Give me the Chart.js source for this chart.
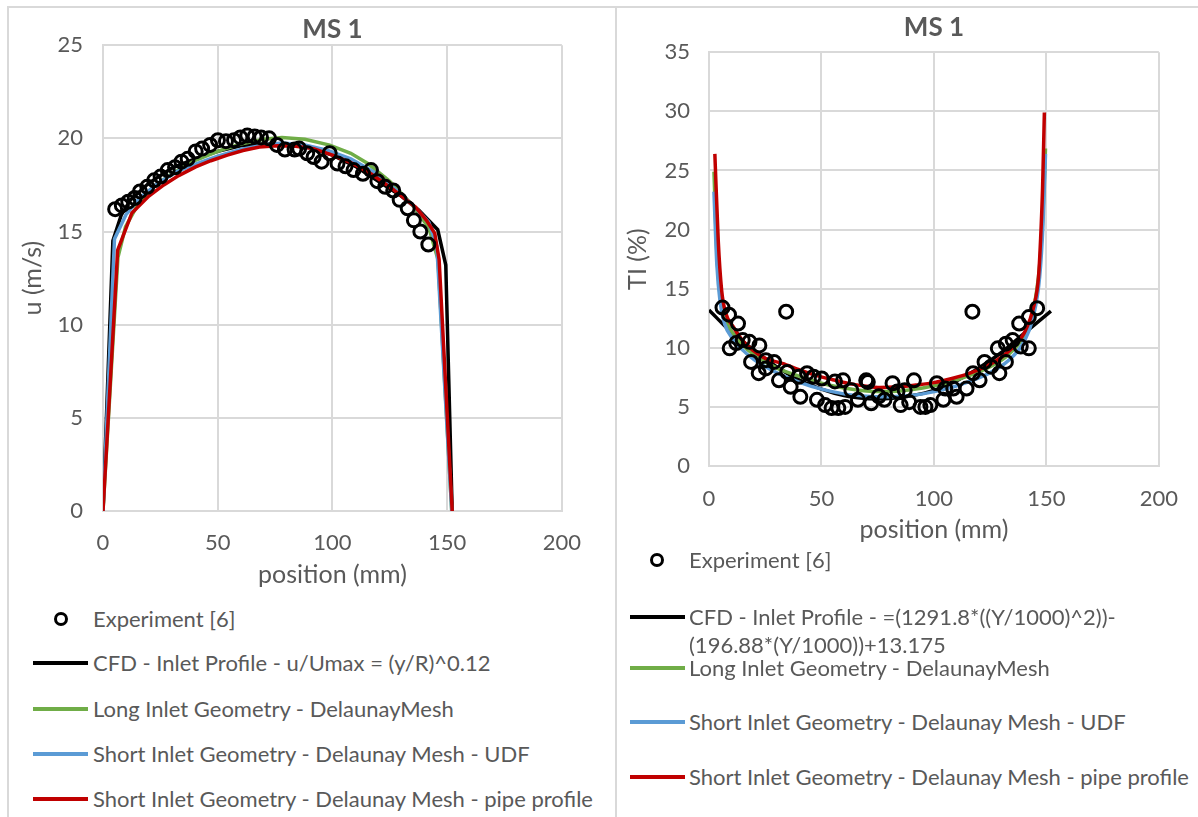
<!DOCTYPE html>
<html>
<head>
<meta charset="utf-8">
<script src="https://cdn.jsdelivr.net/npm/chart.js@4.4.1/dist/chart.umd.min.js"></script>
<style>
  body { margin: 0; width: 1198px; height: 817px; overflow: hidden; background: #fff; font-family: Lato, sans-serif; color: #595959; }
  .panel { position: absolute; top: 6px; height: 900px; border-top: 2px solid #d9d9d9; border-left: 2px solid #d9d9d9; box-sizing: border-box; }
  .box { position: absolute; }
  .lg { position: absolute; font-size: 22px; line-height: 28px; white-space: nowrap; color: #595959; }
  .mk-line { position: absolute; height: 4px; width: 55px; }
  .mk-circ { position: absolute; width: 8px; height: 8px; border: 3px solid #000; border-radius: 50%; }
</style>
</head>
<body>
<div class="panel" style="left:7px; width:610px;"></div>
<div class="panel" style="left:615px; width:600px;"></div>

<div class="box" style="left:0px; top:0px; width:600px; height:600px;"><canvas id="vel-chart"></canvas></div>
<div class="box" style="left:615px; top:0px; width:583px; height:560px;"><canvas id="ti-chart"></canvas></div>

<div id="vel-legend"></div>
<div id="ti-legend"></div>

<script>
// velocity, MS 1 (left)
const velExpX = [5.3, 8.2, 11.0, 13.8, 16.1, 19.3, 22.3, 25.1, 28.2, 31.4, 34.2, 36.9, 40.4, 43.2, 46.7, 50.1, 53.6, 57.1, 59.9, 62.9, 66.1, 68.9, 72.4, 75.8, 79.3, 83.5, 85.5, 89.0, 91.8, 95.3, 98.8, 102.2, 105.7, 109.2, 113.3, 116.8, 119.6, 123.0, 126.5, 129.3, 132.8, 135.5, 138.3, 141.8];
const velExpY = [16.2, 16.4, 16.6, 16.8, 17.15, 17.4, 17.75, 17.95, 18.3, 18.45, 18.75, 18.9, 19.3, 19.45, 19.65, 19.9, 19.85, 19.9, 20.05, 20.15, 20.1, 20.05, 20.0, 19.65, 19.4, 19.4, 19.45, 19.2, 19.0, 18.75, 19.2, 18.65, 18.5, 18.3, 18.1, 18.3, 17.7, 17.4, 17.2, 16.7, 16.25, 15.6, 15.0, 14.3];

const velCfdX = [0, 4.3, 8, 12, 20, 30, 40, 50, 60, 70, 80, 90, 100, 110, 120, 130, 137.6, 145.9, 149.4, 152.2];
const velCfdY = [0, 14.5, 15.9, 16.7, 17.6, 18.4, 18.9, 19.3, 19.6, 19.7, 19.7, 19.5, 19.1, 18.5, 17.7, 16.9, 16.15, 15.1, 13.2, 0];

const velLongX = [0, 6.5, 9.8, 15.4, 22, 30, 40, 50, 60, 70, 78, 88, 98.8, 108, 115.4, 125, 135, 142, 146, 152];
const velLongY = [0, 13.6, 15.25, 16.5, 17.4, 18.1, 18.8, 19.3, 19.7, 19.95, 20.05, 19.95, 19.64, 19.2, 18.65, 17.7, 16.4, 15.2, 13.5, 0];

const velUdfX = [0, 5, 10, 16, 24, 32, 40, 50, 60, 70, 78, 88, 98, 108, 118, 128, 136, 142, 145.5, 152];
const velUdfY = [0, 14.6, 15.9, 16.8, 17.6, 18.2, 18.6, 19.05, 19.4, 19.65, 19.75, 19.65, 19.35, 18.9, 18.2, 17.2, 16.3, 15.5, 14.2, 0];

const velPipeX = [0, 6.4, 12.6, 20, 26.5, 33, 40.4, 47, 54.2, 61, 68.2, 76, 84, 91.8, 100, 108, 116.8, 126, 136.3, 141, 144.6, 146.5, 152.2];
const velPipeY = [0, 14.0, 16.0, 16.9, 17.5, 18.0, 18.47, 18.8, 19.1, 19.35, 19.54, 19.6, 19.58, 19.45, 19.1, 18.7, 18.1, 17.3, 16.3, 15.6, 14.9, 13.5, 0];

// turbulence intensity, MS 1 (right)
const tiExpX = [6.0, 8.9, 9.2, 12.1, 12.9, 15.0, 18.0, 18.7, 22.1, 22.4, 25.3, 25.3, 28.9, 31.1, 34.3, 34.8, 36.3, 39.9, 40.6, 43.6, 46.5, 48.0, 50.1, 51.6, 54.5, 56.0, 57.5, 59.6, 60.5, 63.3, 66.2, 69.9, 70.6, 72.1, 75.5, 78.0, 81.6, 83.8, 85.2, 87.0, 89.0, 91.1, 94.0, 96.2, 98.4, 101.3, 104.2, 105.0, 108.6, 110.1, 114.5, 117.1, 117.4, 120.3, 122.5, 125.4, 128.4, 129.1, 132.0, 132.0, 135.0, 137.9, 138.6, 142.2, 142.2, 145.9];
const tiExpY = [13.4, 12.8, 9.95, 10.4, 12.05, 10.65, 10.5, 8.8, 7.85, 10.2, 8.95, 8.25, 8.8, 7.25, 13.05, 7.95, 6.7, 7.55, 5.85, 7.85, 7.55, 5.6, 7.4, 5.15, 4.9, 7.15, 4.9, 7.25, 5.0, 6.4, 5.6, 7.25, 7.1, 5.3, 5.9, 5.6, 7.0, 6.3, 5.15, 6.4, 5.4, 7.25, 5.0, 5.0, 5.15, 7.0, 5.6, 6.55, 6.55, 5.85, 6.55, 13.05, 7.85, 7.25, 8.8, 8.4, 9.95, 7.85, 8.8, 10.35, 10.65, 12.05, 10.1, 9.95, 12.6, 13.35];

const tiCfdX = [0, 10, 20, 30, 40, 50, 60, 70, 76, 80, 90, 100, 110, 120, 130, 140, 152];
const tiCfdY = [13.2, 11.3, 9.8, 8.4, 7.3, 6.5, 5.95, 5.7, 5.67, 5.7, 5.95, 6.4, 7.2, 8.3, 9.6, 11.2, 13.1];

const tiLongX = [2.2, 3.5, 5, 7, 10, 15, 20, 30, 40, 50, 60, 70, 76, 85, 95, 105, 115, 125, 133, 140, 144, 147, 148.5, 149.6];
const tiLongY = [24.9, 18, 14.3, 12.6, 11.4, 10.2, 9.4, 8.3, 7.6, 7.0, 6.6, 6.35, 6.3, 6.35, 6.6, 7.0, 7.6, 8.4, 9.4, 11, 13, 17, 21.5, 26.85];

const tiUdfX = [2.2, 3.5, 5, 7, 10, 15, 20, 30, 40, 50, 60, 70, 76, 85, 95, 105, 115, 125, 133, 140, 144, 147, 148.5, 149.6];
const tiUdfY = [23.2, 17, 13.8, 12.0, 10.9, 9.8, 9.0, 7.9, 7.1, 6.5, 6.1, 5.9, 5.85, 5.9, 6.1, 6.5, 7.1, 7.9, 8.9, 10.5, 12.5, 16, 20.5, 26.4];

const tiPipeX = [2.6, 4.1, 5.6, 7.5, 10.7, 15, 19.4, 25, 32.6, 40, 47.2, 55, 61.8, 70, 76, 84, 92, 100, 108, 116, 124, 130, 136, 140, 144.4, 146.5, 147.4, 148.3, 149.1];
const tiPipeY = [26.4, 19.1, 14.9, 12.9, 11.8, 10.6, 9.8, 9.1, 8.68, 8.15, 7.69, 7.3, 6.99, 6.75, 6.65, 6.7, 6.85, 7.05, 7.4, 7.85, 8.5, 9.2, 10.2, 11.2, 13.5, 16, 19.1, 23.5, 29.9];

const posTicks = [0, 50, 100, 150, 200];
const velTicks = [0, 5, 10, 15, 20, 25];
const tiTicks = [0, 5, 10, 15, 20, 25, 30, 35];

const expName = 'Experiment [6]';
const velCfdName = 'CFD - Inlet Profile - u/Umax = (y/R)^0.12';
const tiCfdName = ['CFD - Inlet Profile - =(1291.8*((Y/1000)^2))-', '(196.88*(Y/1000))+13.175'];
const longName = 'Long Inlet Geometry - DelaunayMesh';
const udfName = 'Short Inlet Geometry - Delaunay Mesh - UDF';
const pipeName = 'Short Inlet Geometry - Delaunay Mesh - pipe profile';

const cfdColor = '#000000';
const longColor = '#70ad47';
const udfColor = '#5b9bd5';
const pipeColor = '#c00000';
const gridColor = '#d9d9d9';
const textColor = '#595959';

function pts(xs, ys) {
    return xs.map((x, i) => ({x: x, y: ys[i]}));
}

function lineSet(label, xs, ys, color, smooth) {
    return {
        label: label,
        data: pts(xs, ys),
        showLine: true,
        borderColor: color,
        backgroundColor: color,
        borderWidth: 3.5,
        pointRadius: 0,
        tension: 0,
        cubicInterpolationMode: smooth ? 'monotone' : 'default'
    };
}

function expSet(xs, ys) {
    return {
        label: expName,
        data: pts(xs, ys),
        showLine: false,
        pointRadius: 6.5,
        pointBorderWidth: 3,
        pointBorderColor: '#000000',
        pointBackgroundColor: 'rgba(0,0,0,0)',
        borderColor: '#000000'
    };
}

function chartOptions(cfg) {
    return {
        responsive: true,
        maintainAspectRatio: false,
        animation: false,
        layout: { padding: cfg.pad },
        plugins: {
            legend: { display: false },
            tooltip: { enabled: false },
            title: {
                display: true,
                text: 'MS 1',
                fullSize: false,
                color: textColor,
                font: { family: 'Lato', size: 26, weight: 'bold' },
                padding: cfg.titlePad
            }
        },
        scales: {
            x: {
                type: 'linear',
                min: 0,
                max: 200,
                afterBuildTicks: s => { s.ticks = posTicks.map(v => ({value: v})); },
                afterFit: s => { s.height = cfg.xHeight; },
                grid: { color: gridColor, lineWidth: 2, drawTicks: false },
                border: { color: gridColor, width: 2 },
                ticks: { color: textColor, padding: cfg.xTickPad, font: { family: 'Lato', size: 22 } },
                title: {
                    display: true, text: 'position (mm)', color: textColor,
                    font: { family: 'Lato', size: 25 }, padding: { top: 0, bottom: cfg.xTitlePad }
                }
            },
            y: {
                type: 'linear',
                min: 0,
                max: cfg.yMax,
                afterBuildTicks: s => { s.ticks = cfg.yTicks.map(v => ({value: v})); },
                afterFit: s => { s.width = cfg.yWidth; },
                grid: { color: gridColor, lineWidth: 2, drawTicks: false },
                border: { color: gridColor, width: 2 },
                ticks: { color: textColor, padding: cfg.yTickPad, font: { family: 'Lato', size: 22 } },
                title: {
                    display: true, text: cfg.yTitle, color: textColor,
                    font: { family: 'Lato', size: 25 }, padding: { top: cfg.yTitlePad, bottom: 0 }
                }
            }
        }
    };
}

const velChart = new Chart(document.getElementById('vel-chart'), {
    type: 'scatter',
    data: {
        datasets: [
            expSet(velExpX, velExpY),
            lineSet(pipeName, velPipeX, velPipeY, pipeColor, false),
            lineSet(udfName, velUdfX, velUdfY, udfColor, false),
            lineSet(longName, velLongX, velLongY, longColor, false),
            lineSet(velCfdName, velCfdX, velCfdY, cfdColor, false)
        ]
    },
    options: chartOptions({
        pad: { left: 8, right: 17, top: 4, bottom: 0 },
        titlePad: { top: 10, bottom: 0 },
        xHeight: 89, xTitlePad: 10, xTickPad: 19,
        yWidth: 95, yTitlePad: 10, yTickPad: 20,
        yMax: 25, yTicks: velTicks, yTitle: 'u (m/s)'
    })
});

const tiChart = new Chart(document.getElementById('ti-chart'), {
    type: 'scatter',
    data: {
        datasets: [
            expSet(tiExpX, tiExpY),
            lineSet(pipeName, tiPipeX, tiPipeY, pipeColor, true),
            lineSet(udfName, tiUdfX, tiUdfY, udfColor, true),
            lineSet(longName, tiLongX, tiLongY, longColor, true),
            lineSet(tiCfdName.join(''), tiCfdX, tiCfdY, cfdColor, true)
        ]
    },
    options: chartOptions({
        pad: { left: 3, right: 33, top: 2, bottom: 0 },
        titlePad: { top: 10, bottom: 9 },
        xHeight: 94, xTitlePad: 15, xTickPad: 20,
        yWidth: 91, yTitlePad: 5, yTickPad: 19,
        yMax: 35, yTicks: tiTicks, yTitle: 'TI (%)'
    })
});

// legends, one entry per row like the original
function addLegend(holderId, rows) {
    const holder = document.getElementById(holderId);
    rows.forEach(r => {
        if (r.circle) {
            const m = document.createElement('div');
            m.className = 'mk-circ';
            m.style.left = (r.mx - 7) + 'px';
            m.style.top = (r.y - 7) + 'px';
            holder.appendChild(m);
        } else {
            const m = document.createElement('div');
            m.className = 'mk-line';
            m.style.left = r.mx + 'px';
            m.style.top = (r.y - 2) + 'px';
            m.style.background = r.color;
            holder.appendChild(m);
        }
        const t = document.createElement('div');
        t.className = 'lg';
        t.style.left = r.tx + 'px';
        t.style.top = (r.y - 14) + 'px';
        t.innerHTML = [].concat(r.text).join('<br>');
        holder.appendChild(t);
    });
}

addLegend('vel-legend', [
    { circle: true, mx: 61, tx: 93, y: 619, text: expName },
    { mx: 33, tx: 93, y: 663, color: cfdColor, text: velCfdName },
    { mx: 33, tx: 93, y: 709, color: longColor, text: longName },
    { mx: 33, tx: 93, y: 754, color: udfColor, text: udfName },
    { mx: 33, tx: 93, y: 799, color: pipeColor, text: pipeName }
]);

addLegend('ti-legend', [
    { circle: true, mx: 657, tx: 689, y: 560, text: expName },
    { mx: 630, tx: 689, y: 617, color: cfdColor, text: tiCfdName },
    { mx: 630, tx: 689, y: 668, color: longColor, text: longName },
    { mx: 630, tx: 689, y: 722, color: udfColor, text: udfName },
    { mx: 630, tx: 689, y: 777, color: pipeColor, text: pipeName }
]);
</script>
</body>
</html>
